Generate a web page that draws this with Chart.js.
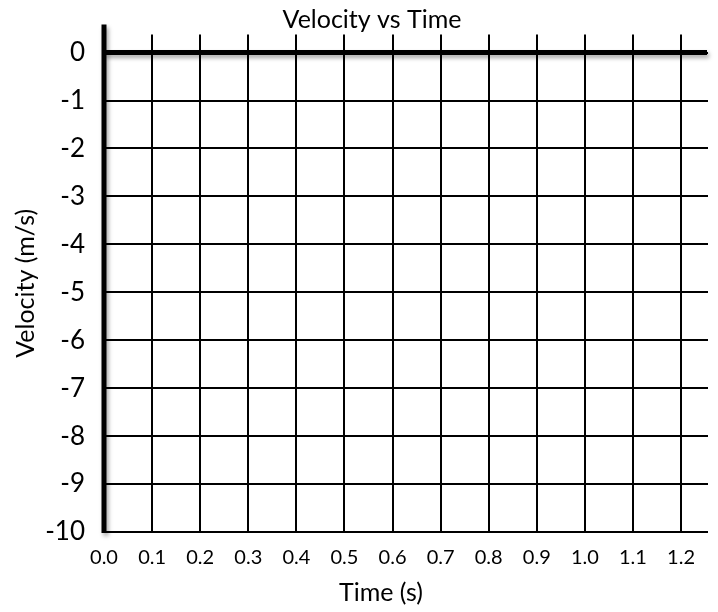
<!DOCTYPE html>
<html>
<head>
<meta charset="utf-8">
<script src="https://cdn.jsdelivr.net/npm/chart.js@4/dist/chart.umd.min.js"></script>
<style>html,body{margin:0;padding:0;background:#fff;}canvas{display:block;}</style>
</head>
<body>
<canvas id="c" width="718" height="612"></canvas>
<script>
const chartTitle = 'Velocity vs Time';
const xTitle = 'Time (s)';
const yTitle = 'Velocity (m/s)';
const timeTicks = [0.0, 0.1, 0.2, 0.3, 0.4, 0.5, 0.6, 0.7, 0.8, 0.9, 1.0, 1.1, 1.2];
const velocityTicks = [0, -1, -2, -3, -4, -5, -6, -7, -8, -9, -10];
const timeRange = [0, 1.256];
const velocityRange = [-10, 0.375];
const times = [];
const velocities = [];

const points = times.map((t, i) => ({ x: t, y: velocities[i] }));

const axesOverlay = {
  id: 'axesOverlay',
  beforeDraw(chart) {
    const xs = chart.scales.x;
    xs._savedRight = xs.right;
    xs.right = xs.right - 50;
  },
  beforeDatasetsDraw(chart) {
    const xs = chart.scales.x;
    if (xs._savedRight !== undefined) { xs.right = xs._savedRight; xs._savedRight = undefined; }
  },
  afterDatasetsDraw(chart) {
    const { ctx, chartArea, scales: { x, y } } = chart;
    const x0 = x.getPixelForValue(0);
    const y0 = y.getPixelForValue(0);
    const yb = y.getPixelForValue(velocityRange[0]);
    ctx.save();
    ctx.strokeStyle = '#000';
    ctx.lineCap = 'butt';
    ctx.shadowColor = 'rgba(0,0,0,0.35)';
    ctx.shadowBlur = 4;
    ctx.shadowOffsetX = 2;
    ctx.shadowOffsetY = 3;
    ctx.lineWidth = 5;
    ctx.beginPath();
    ctx.moveTo(x0, y0);
    ctx.lineTo(chartArea.right - 1, y0);
    ctx.stroke();
    ctx.beginPath();
    ctx.moveTo(x0, chartArea.top - 10);
    ctx.lineTo(x0, yb + 1);
    ctx.stroke();
    ctx.restore();
  },
  afterDraw(chart) {
    const xs = chart.scales.x;
    if (xs._savedRight !== undefined) { xs.right = xs._savedRight; xs._savedRight = undefined; }
  }
};

Chart.defaults.font.family = 'Lato';
Chart.defaults.color = '#000';

new Chart(document.getElementById('c'), {
  type: 'scatter',
  data: {
    datasets: [{
      label: yTitle,
      data: points,
      pointRadius: 0,
      showLine: false
    }]
  },
  options: {
    responsive: false,
    animation: false,
    devicePixelRatio: 1,
    layout: { padding: { left: 36, right: 10, top: 0, bottom: 0 } },
    plugins: {
      legend: { display: false },
      tooltip: { enabled: false },
      title: {
        display: true,
        text: chartTitle,
        color: '#000',
        font: { family: 'Lato', size: 25, weight: 'normal', lineHeight: 1.2 },
        padding: { top: 4, bottom: 0 }
      }
    },
    scales: {
      x: {
        type: 'linear',
        position: 'bottom',
        min: timeRange[0],
        max: timeRange[1],
        afterBuildTicks: s => { s.ticks = timeTicks.map(v => ({ value: v })); },
        afterFit: s => { s.height = 80; },
        grid: { color: '#000', lineWidth: 2, drawTicks: false },
        border: { display: false },
        ticks: {
          padding: 14,
          color: '#000',
          maxRotation: 0,
          autoSkip: false,
          font: { family: 'Lato', size: 20 },
          callback: v => Number(v).toFixed(1)
        },
        title: {
          display: true,
          text: xTitle,
          color: '#000',
          font: { family: 'Lato', size: 25, lineHeight: 1.2 },
          padding: { top: 0, bottom: 4 }
        }
      },
      y: {
        type: 'linear',
        min: velocityRange[0],
        max: velocityRange[1],
        afterBuildTicks: s => { s.ticks = velocityTicks.map(v => ({ value: v })); },
        afterFit: s => { s.width = 68; },
        grid: { color: '#000', lineWidth: 2, drawTicks: false },
        border: { display: false },
        ticks: {
          padding: 19,
          color: '#000',
          font: { family: 'Lato', size: 26 },
          callback: v => String(v)
        },
        title: {
          display: true,
          text: yTitle,
          color: '#000',
          font: { family: 'Lato', size: 25, lineHeight: 1.2 },
          padding: { top: -25, bottom: 0 }
        }
      }
    }
  },
  plugins: [axesOverlay]
});
</script>
</body>
</html>
